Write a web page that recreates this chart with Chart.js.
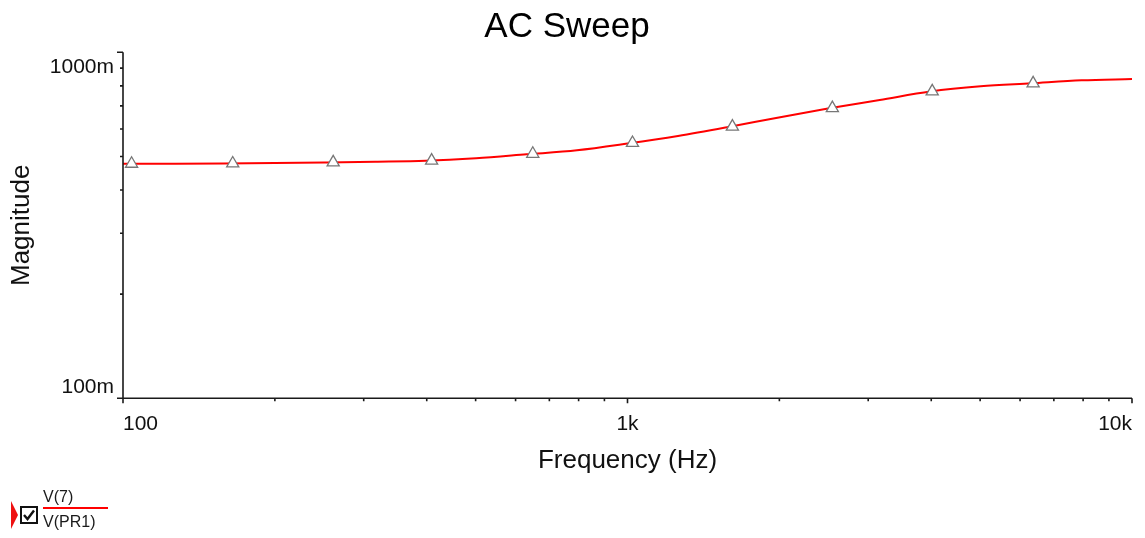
<!DOCTYPE html>
<html>
<head>
<meta charset="utf-8">
<script src="https://cdn.jsdelivr.net/npm/chart.js@4"></script>
<style>
  html, body { margin: 0; padding: 0; background: #fff; }
  #wrap { position: relative; width: 1145px; height: 538px; }
  #legend { position: absolute; left: 10px; top: 488px; font: 16px "Liberation Sans", Arial, sans-serif; color: #1a1a1a; }
  #legend svg { position: absolute; }
  #legend .top { position: absolute; left: 33px; top: 0; }
  #legend .bar { position: absolute; left: 33px; top: 19px; width: 65px; height: 2px; background: #ff0000; }
  #legend .bot { position: absolute; left: 33px; top: 25px; }
</style>
</head>
<body>
<div id="wrap">
  <canvas id="chart"></canvas>
  <div id="legend">
    <svg style="left:1px;top:13px" width="8" height="28"><polygon points="0,0 7,14 0,28" fill="#ee1111"/></svg>
    <svg style="left:10px;top:18px" width="19" height="19">
      <rect x="1" y="1" width="16" height="16" fill="#fff" stroke="#111" stroke-width="2"/>
      <path d="M4 9 L7.5 13 L14 4.5" fill="none" stroke="#111" stroke-width="2.4"/>
    </svg>
    <span class="top">V(7)</span>
    <div class="bar"></div>
    <span class="bot">V(PR1)</span>
  </div>
</div>
<script>
// curve (Hz / magnitude)
const freqHz = [100, 126, 158, 200, 251, 316, 398, 501, 631, 794, 1000, 1259, 1585, 1995, 2512, 3162, 3981, 5012, 6310, 7943, 10000];
const magnitude = [0.4763, 0.4766, 0.4772, 0.4785, 0.4804, 0.4827, 0.4858, 0.4942, 0.5072, 0.5209, 0.5447, 0.5730, 0.6083, 0.6484, 0.6889, 0.7281, 0.7704, 0.7975, 0.8135, 0.8299, 0.8371];

// triangle markers on the trace
const markerHz = [104, 165, 261, 409, 649, 1023, 1614, 2547, 4018, 6368];
const markerMag = [0.4763, 0.4772, 0.4807, 0.4862, 0.509, 0.547, 0.610, 0.690, 0.771, 0.8135];

const FONT = '"Liberation Sans", Arial, sans-serif';

function isDecade(v) {
    const l = Math.log10(v);
    return Math.abs(l - Math.round(l)) < 1e-9;
}
// only 1..9 x 10^n get a tick mark
function isWholeStep(v) {
    const m = v / Math.pow(10, Math.floor(Math.log10(v) + 1e-9));
    return Math.abs(m - Math.round(m)) < 1e-6;
}
function freqLabel(v) {
    if (v >= 1000) return (v / 1000) + 'k';
    return String(v);
}
function magLabel(v) {
    return Math.round(v * 1000) + 'm';
}

// axis lines, tick marks and the y tick labels
const axesPlugin = {
    id: 'axes',
    afterDraw(chart) {
        const { ctx, chartArea: a, scales: { x, y } } = chart;
        ctx.save();
        ctx.strokeStyle = '#1a1a1a';
        ctx.lineWidth = 1.6;
        ctx.beginPath();
        ctx.moveTo(a.left, a.top);
        ctx.lineTo(a.left, a.bottom);
        ctx.lineTo(a.right, a.bottom);
        x.ticks.filter(t => isWholeStep(t.value)).forEach(t => {
            const px = x.getPixelForValue(t.value);
            ctx.moveTo(px, a.bottom);
            ctx.lineTo(px, a.bottom + (isDecade(t.value) ? 5 : 3));
        });
        y.ticks.filter(t => isWholeStep(t.value)).forEach(t => {
            const py = y.getPixelForValue(t.value);
            ctx.moveTo(a.left, py);
            ctx.lineTo(a.left - (isDecade(t.value) ? 6 : 3), py);
        });
        ctx.stroke();

        ctx.fillStyle = '#111';
        ctx.font = '21px ' + FONT;
        ctx.textAlign = 'right';
        ctx.textBaseline = 'alphabetic';
        y.ticks.filter(t => isDecade(t.value)).forEach(t => {
            const py = y.getPixelForValue(t.value);
            const atTop = t.value === y.max;
            ctx.fillText(magLabel(t.value), a.left - 9, atTop ? py + 20.5 : py - 5);
        });
        ctx.restore();
    }
};

const ctx = document.getElementById('chart').getContext('2d');
new Chart(ctx, {
    type: 'line',
    data: {
        datasets: [{
            label: 'markers',
            data: markerHz.map((f, i) => ({ x: f, y: markerMag[i] })),
            showLine: false,
            pointStyle: 'triangle',
            pointRadius: 7,
            pointBorderWidth: 1.3,
            pointBorderColor: '#777',
            pointBackgroundColor: '#fff',
            order: 0
        }, {
            label: 'V(7)/V(PR1)',
            data: freqHz.map((f, i) => ({ x: f, y: magnitude[i] })),
            borderColor: '#ff0000',
            borderWidth: 2,
            pointRadius: 0,
            cubicInterpolationMode: 'monotone',
            fill: false,
            order: 1
        }]
    },
    options: {
        responsive: true,
        maintainAspectRatio: false,
        animation: false,
        layout: { padding: { left: 0, right: 11, top: 0, bottom: 61.4 } },
        plugins: {
            legend: { display: false },
            tooltip: { enabled: false },
            title: {
                display: true,
                text: 'AC Sweep',
                color: '#000',
                font: { family: FONT, size: 35, weight: 'normal' },
                padding: { top: 6.5, bottom: 3.8 }
            }
        },
        scales: {
            x: {
                type: 'logarithmic',
                min: 100,
                max: 10000,
                grid: { display: false, drawTicks: false },
                border: { display: false },
                ticks: {
                    autoSkip: false,
                    maxRotation: 0,
                    align: 'inner',
                    padding: 13,
                    color: '#111',
                    font: { family: FONT, size: 21 },
                    callback: v => isDecade(v) ? freqLabel(v) : ''
                },
                title: {
                    display: true,
                    text: 'Frequency (Hz)',
                    color: '#111',
                    font: { family: FONT, size: 26 },
                    padding: { top: 0, bottom: 0 }
                },
                afterFit: s => { s.height = 78.3; }
            },
            y: {
                type: 'logarithmic',
                min: 0.1,
                max: 1,
                grid: { display: false, drawTicks: false },
                border: { display: false },
                ticks: { display: false },
                title: {
                    display: true,
                    text: 'Magnitude',
                    color: '#111',
                    font: { family: FONT, size: 26 },
                    padding: { top: 6.4, bottom: 0 }
                },
                afterFit: s => { s.width = 123; }
            }
        }
    },
    plugins: [axesPlugin]
});
</script>
</body>
</html>
